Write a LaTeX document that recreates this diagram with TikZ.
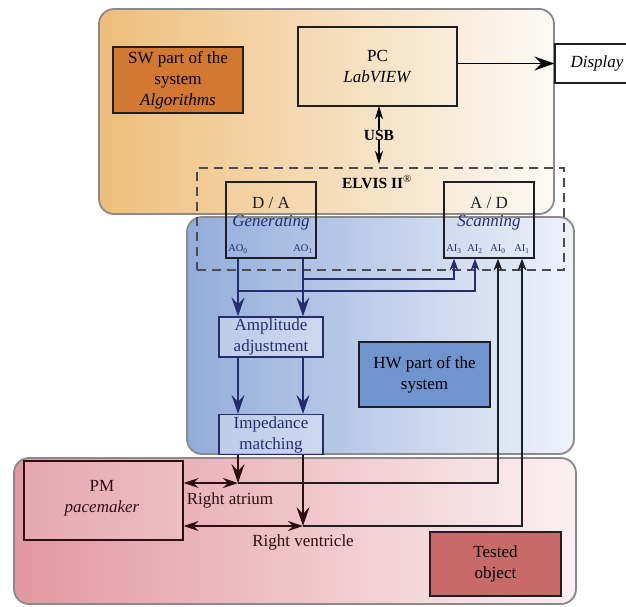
\documentclass[tikz,border=0pt]{standalone}
\usepackage{fontspec}
\setmainfont{Liberation Serif}
\usetikzlibrary{arrows.meta,calc}

% palette
\definecolor{swL}{RGB}{238,190,122}
\definecolor{swR}{RGB}{252,250,246}
\definecolor{hwL}{RGB}{146,172,218}
\definecolor{hwR}{RGB}{238,242,250}
\definecolor{tsL}{RGB}{226,152,160}
\definecolor{tsR}{RGB}{251,240,242}
\definecolor{swTag}{RGB}{210,120,48}
\definecolor{hwTag}{RGB}{112,148,206}
\definecolor{tsTag}{RGB}{200,106,104}
\definecolor{navy}{RGB}{36,46,110}
\definecolor{maroon}{RGB}{45,14,18}
\definecolor{frame}{RGB}{138,138,138}
\definecolor{ink}{RGB}{30,30,36}

\tikzset{
  region/.style={draw=frame, line width=1.8pt, rounded corners=15pt},
  tagbox/.style={draw=ink, line width=1.3pt, align=center, inner sep=0pt,
                 font=\fontsize{17}{21}\selectfont},
  plainbox/.style={draw=ink, line width=1.3pt, inner sep=0pt},
  hwbox/.style={draw=navy, line width=1.3pt, fill=white, fill opacity=0.35,
                text opacity=1, text=navy, align=center, inner sep=0pt,
                font=\fontsize{17}{21}\selectfont},
  lbl/.style={font=\fontsize{17}{21}\selectfont, align=center, inner sep=0pt},
  pin/.style={font=\fontsize{10.5}{12}\selectfont, text=navy, inner sep=0pt},
  wire/.style={line width=1.1pt},
  bigdown/.style={wire, -{Stealth[length=19pt,width=13pt,inset=7pt]}},
  smallup/.style={wire, -{Stealth[length=12pt,width=9pt,inset=4pt]}},
  twoway/.style={wire, {Stealth[length=15pt,width=10pt,inset=5pt]}-{Stealth[length=15pt,width=10pt,inset=5pt]}},
}

\begin{document}
\begin{tikzpicture}[x=1pt,y=-1pt]
\useasboundingbox (0,0) rectangle (626,606);
\fill[white] (0,0) rectangle (626,606);

% the three domains of the system
\path[region, left color=swL, right color=swR] (99,9) rectangle (554,214);
\path[region, left color=hwL, right color=hwR] (187,217) rectangle (574,454);
\path[region, left color=tsL, right color=tsR] (14,458) rectangle (576,604);

% domain tags
\node[tagbox, fill=swTag, minimum width=130pt, minimum height=66pt] (swtag) at (178,80)
  {SW part of the\\system\\\textit{Algorithms}};
\node[tagbox, fill=hwTag, minimum width=131pt, minimum height=65pt] (hwtag) at (424.5,374.5)
  {HW part of the\\system};
\node[tagbox, fill=tsTag, minimum width=131pt, minimum height=64pt] (tstag) at (495.5,564)
  {Tested\\object};

% computer and display
\node[tagbox, minimum width=159pt, minimum height=79pt] (pc) at (377.5,66.5)
  {PC\\\textit{LabVIEW}};
\node[plainbox, fill=white, minimum width=90pt, minimum height=39pt] (display) at (600,63.5) {};
\node[lbl] (disptext) at (597,63.5) {\textit{Display}};

% ELVIS II board
\node[draw=ink!80, dashed, dash pattern=on 9pt off 6pt, line width=1.3pt,
      minimum width=367pt, minimum height=102pt, inner sep=0pt] (elvis) at (380.5,219) {};
\node[lbl, font=\fontsize{15.5}{18}\selectfont\bfseries] (elvistext) at (377,182)
  {ELVIS II\textsuperscript{\normalfont ®}};

\node[plainbox, minimum width=90pt, minimum height=76pt] (da) at (271,220) {};
\node[lbl, text=ink] (datext) at (271,203) {D / A};
\node[lbl, text=navy] (dagen) at (271,223) {\textit{Generating}};
\node[pin] (ao0) at (238,249) {AO\textsubscript{0}};
\node[pin] (ao1) at (303,249) {AO\textsubscript{1}};

\node[plainbox, minimum width=90pt, minimum height=76pt] (ad) at (489,220) {};
\node[lbl, text=ink] (adtext) at (489,203) {A / D};
\node[lbl, text=navy] (adscan) at (489,223) {\textit{Scanning}};
\node[pin] (ai3) at (454,249) {AI\textsubscript{3}};
\node[pin] (ai2) at (475,249) {AI\textsubscript{2}};
\node[pin] (ai0) at (498,249) {AI\textsubscript{0}};
\node[pin] (ai1) at (522,249) {AI\textsubscript{1}};

% USB link
\node[lbl, font=\fontsize{15.5}{18}\selectfont\bfseries] (usb) at (379,135) {USB};
\coordinate (usbtop) at (379,106);
\coordinate (usbbot) at (379,164);
\draw[wire, -{Stealth[length=13pt,width=8pt,inset=4pt]}] (usb.north) -- (usbtop);
\draw[wire, -{Stealth[length=13pt,width=8pt,inset=4pt]}] (usb.south) -- (usbbot);

% PC to display
\draw[wire, -{Stealth[length=20pt,width=14pt,inset=7pt]}] (pc.east |- display.west) -- (display.west);

% signal conditioning
\node[hwbox, minimum width=104pt, minimum height=40pt] (amp) at (271,337)
  {Amplitude\\adjustment};
\node[hwbox, minimum width=104pt, minimum height=40pt] (imp) at (271,434.5)
  {Impedance\\matching};

% pacemaker
\node[draw=maroon, line width=1.3pt, fill=white, fill opacity=0.15, text opacity=1,
      minimum width=159pt, minimum height=79pt, inner sep=0pt] (pm) at (103.5,500.5) {};
\node[lbl, text=maroon] (pmtext) at (102,498) {PM\\\textit{pacemaker}};

% electrode junctions
\coordinate (ra) at (238,483);
\coordinate (rv) at (303,526);
\coordinate (fb1) at (303,279);
\coordinate (fb0) at (238,291);

% generator outputs down to the heart
\draw[bigdown, navy] (da.south -| ao0) -- (amp.north -| ao0);
\draw[bigdown, navy] (da.south -| ao1) -- (amp.north -| ao1);
\draw[bigdown, navy] (amp.south -| ao0) -- (imp.north -| ao0);
\draw[bigdown, navy] (amp.south -| ao1) -- (imp.north -| ao1);
\draw[bigdown, maroon] (imp.south -| ao0) -- (ra);
\draw[bigdown, maroon] (imp.south -| ao1) -- (rv);

% generator outputs fed back to the scanner
\draw[smallup, navy] (fb1) -| (ad.south -| ai3);
\draw[smallup, navy] (fb0) -| (ad.south -| ai2);

% heart chambers to pacemaker and scanner
\draw[twoway, maroon] (pm.east |- ra) -- (ra);
\draw[twoway, maroon] (pm.east |- rv) -- (rv);
\draw[smallup, ink] (ra) -| (ad.south -| ai0);
\draw[smallup, ink] (rv) -| (ad.south -| ai1);

\node[lbl, text=maroon] (ratext) at (230,500) {Right atrium};
\node[lbl, text=maroon] (rvtext) at (303,542) {Right ventricle};
\end{tikzpicture}
\end{document}
